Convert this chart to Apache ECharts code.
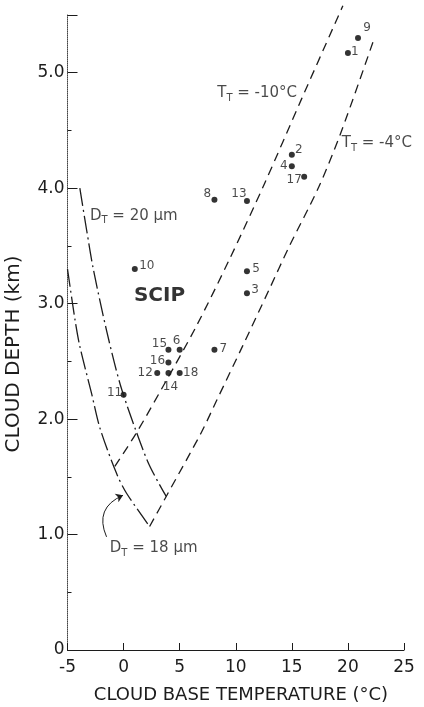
<!DOCTYPE html>
<html><head><meta charset="utf-8">
<script src="https://cdn.jsdelivr.net/npm/echarts@6/dist/echarts.min.js"></script>
<style>html,body{margin:0;padding:0;background:#fff}#c{width:424px;height:707px}</style>
</head><body><div id="c"></div>
<script>
// ---- data ----
const pointIds    = ['1','2','3','4','5','6','7','8','9','10','11','12','13','14','15','16','17','18'];
const pointTemps  = [20.0, 15.0, 11.0, 15.0, 11.0, 5.0, 8.1, 8.1, 20.9, 1.0, 0.0, 3.0, 11.0, 4.0, 4.0, 4.0, 16.1, 5.0];
const pointDepths = [5.17, 4.29, 3.09, 4.19, 3.28, 2.60, 2.60, 3.90, 5.30, 3.30, 2.21, 2.40, 3.89, 2.40, 2.60, 2.49, 4.10, 2.40];

const tt10Temps  = [-0.78, 1.14, 3.5, 6.46, 9.42, 12.52, 15.9, 19.55];
const tt10Depths = [1.59, 1.88, 2.28, 2.80, 3.38, 4.03, 4.78, 5.58];

const tt4Temps  = [2.32, 3.8, 6.91, 8.24, 10.6, 12.97, 14.74, 17.4, 19.33, 22.25];
const tt4Depths = [1.07, 1.33, 1.88, 2.15, 2.63, 3.12, 3.49, 4.01, 4.47, 5.27];

const dt20Temps  = [-3.9, -3.3, -2.7, -1.5, -0.3, 1.1, 2.3, 3.8];
const dt20Depths = [4.0, 3.64, 3.3, 2.76, 2.3, 1.9, 1.6, 1.33];

const dt18Temps  = [-5.0, -4.33, -3.9, -2.85, -2.1, -0.63, 0.25, 2.32];
const dt18Depths = [3.3, 2.86, 2.63, 2.22, 1.92, 1.53, 1.36, 1.07];

const xTicks = [-5, 0, 5, 10, 15, 20, 25];
const yTickLabels = ['0', '1.0', '2.0', '3.0', '4.0', '5.0'];

const xTitle = 'CLOUD BASE TEMPERATURE (°C)';
const yTitle = 'CLOUD DEPTH (km)';

const annoTexts = ['{m|T}{s|T}{m| = -10°C}', '{m|T}{s|T}{m| = -4°C}', '{m|D}{s|T}{m| = 20 µm}', '{m|D}{s|T}{m| = 18 µm}', '{b|SCIP}'];
const annoTemps  = [8.35, 19.45, -3.0, -1.23, 3.2];
const annoDepths = [4.82, 4.39, 3.76, 0.88, 3.07];

const arrowFrom = [-1.52, 0.98];
const arrowTo   = [-0.05, 1.34];

// ---- styles ----
const FONT = 'DejaVu Sans';
const INK = '#1c1c1c';
const labelOffsets = [[7,-1],[7,-5],[8,-3],[-8,0],[9,-2],[-3,-9],[9,-1],[-7,-6],[9,-10],[12,-3],[-9,-2],[-12,0],[-8,-7],[2,14],[-9,-6],[-11,-2],[-10,3],[11,0]];
const annoAlign = ['left','left','left','left','center'];

const zip = (a, b) => a.map((v, i) => [v, b[i]]);

const chart = echarts.init(document.getElementById('c'));
chart.setOption({
  animation: false,
  backgroundColor: '#fff',
  grid: { left: 67.5, right: 20, top: 15, bottom: 57, containLabel: false, outerBoundsMode: 'none' },
  graphic: [
    { type: 'text', x: 241, y: 695, silent: true,
      style: { text: xTitle, fontFamily: FONT, fontSize: 18, fill: INK, align: 'center', verticalAlign: 'middle' } },
    { type: 'text', x: 14, y: 354, rotation: Math.PI / 2, silent: true,
      style: { text: yTitle, fontFamily: FONT, fontSize: 20, fill: INK, align: 'center', verticalAlign: 'middle' } }
  ],
  xAxis: {
    type: 'value', min: -5, max: 25, interval: 5,
    axisLine: { onZero: false, lineStyle: { color: INK, width: 1 } },
    axisTick: { inside: true, length: 7, lineStyle: { color: INK } },
    axisLabel: { margin: 9, fontFamily: FONT, fontSize: 17, color: INK,
      formatter: v => xTicks.includes(v) ? String(v) : '' },
    splitLine: { show: false }
  },
  yAxis: {
    type: 'value', min: 0, max: 5.5, interval: 1,
    axisLine: { onZero: false, lineStyle: { color: '#444', width: 1, type: 'dotted' } },
    axisTick: { inside: true, length: 10, lineStyle: { color: INK } },
    minorTick: { show: true, splitNumber: 2, length: 4, lineStyle: { color: INK } },
    axisLabel: { margin: 3, fontFamily: FONT, fontSize: 17, color: INK,
      formatter: v => yTickLabels[v] !== undefined ? yTickLabels[v] : '' },
    splitLine: { show: false }
  },
  series: [
    { name: 'TT -10', type: 'line', data: zip(tt10Temps, tt10Depths), smooth: 0.3, showSymbol: false, clip: false,
      lineStyle: { color: INK, width: 1.3, type: [9, 6] } },
    { name: 'TT -4', type: 'line', data: zip(tt4Temps, tt4Depths), smooth: 0.3, showSymbol: false, clip: false,
      lineStyle: { color: INK, width: 1.3, type: [9, 6] } },
    { name: 'DT 20', type: 'line', data: zip(dt20Temps, dt20Depths), smooth: 0.3, showSymbol: false,
      lineStyle: { color: INK, width: 1.3, type: [18, 4, 2, 4] } },
    { name: 'DT 18', type: 'line', data: zip(dt18Temps, dt18Depths), smooth: 0.3, showSymbol: false,
      lineStyle: { color: INK, width: 1.3, type: [18, 4, 2, 4] } },
    { name: 'points', type: 'scatter', symbolSize: 6, itemStyle: { color: '#000' },
      data: pointIds.map((id, i) => ({ value: [pointTemps[i], pointDepths[i]], name: id,
        label: { offset: labelOffsets[i] } })),
      label: { show: true, position: 'inside', align: 'center', verticalAlign: 'middle',
        formatter: p => p.name, fontFamily: FONT, fontSize: 12, color: INK } },
    { name: 'annotations', type: 'scatter', symbolSize: 0, silent: true,
      data: annoTexts.map((t, i) => ({ value: [annoTemps[i], annoDepths[i]], name: t,
        label: { align: annoAlign[i] } })),
      label: { show: true, position: 'inside', verticalAlign: 'middle', formatter: p => p.name,
        rich: {
          m: { fontFamily: FONT, fontSize: 15, color: INK, lineHeight: 20 },
          s: { fontFamily: FONT, fontSize: 10, color: INK, verticalAlign: 'bottom', lineHeight: 14 },
          b: { fontFamily: FONT, fontSize: 20, fontWeight: 'bold', color: '#000' }
        } } },
    { name: 'arrow', type: 'lines', coordinateSystem: 'cartesian2d', silent: true,
      symbol: ['none', 'arrow'], symbolSize: 7,
      lineStyle: { color: INK, width: 1, curveness: 0.5, opacity: 1 },
      data: [{ coords: [arrowFrom, arrowTo] }] }
  ]
});
</script></body></html>
